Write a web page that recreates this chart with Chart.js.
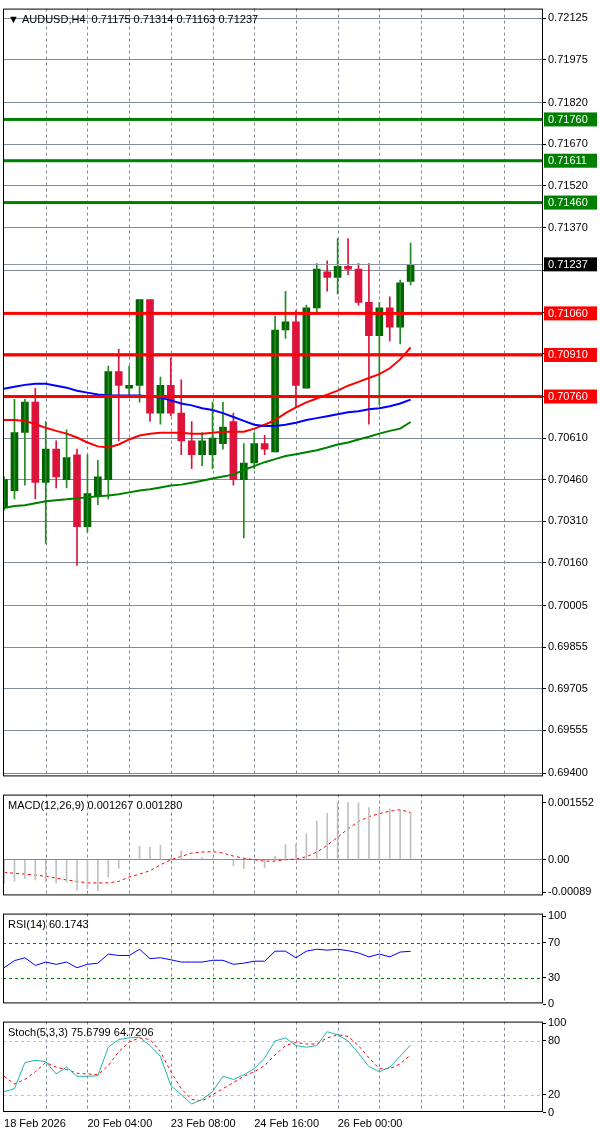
<!DOCTYPE html>
<html>
<head>
<meta charset="utf-8">
<script src="https://cdn.jsdelivr.net/npm/chart.js@4.4.1/dist/chart.umd.min.js"></script>
<style>
body { margin: 0; background: #fff; width: 600px; height: 1135px; position: relative; overflow: hidden; }
.pane { position: absolute; left: 0; width: 600px; }
</style>
</head>
<body>
<div class="pane" style="top:0"><canvas id="cMain" width="600" height="785"></canvas></div>
<div class="pane" style="top:786px"><canvas id="cMacd" width="600" height="118"></canvas></div>
<div class="pane" style="top:905px"><canvas id="cRsi" width="600" height="107"></canvas></div>
<div class="pane" style="top:1013px"><canvas id="cStoch" width="600" height="122"></canvas></div>
<script>
// AUDUSD H4 candles
const openP  = [0.7036,0.7042,0.7063,0.7074,0.7045,0.7057,0.7046,0.7055,0.7029,0.7040,0.7046,0.7085,0.7079,0.7080,0.7111,0.7070,0.7080,0.7070,0.7060,0.7055,0.7055,0.7059,0.7067,0.7046,0.7052,0.7059,0.7056,0.7100,0.7103,0.7079,0.7108,0.7121,0.7119,0.7123,0.7122,0.7110,0.7098,0.7108,0.7101,0.71175];
const highP  = [0.7047,0.7075,0.7075,0.7079,0.7067,0.7060,0.7064,0.7057,0.7055,0.7053,0.7087,0.7093,0.7087,0.7111,0.7111,0.7083,0.7090,0.7082,0.7067,0.7063,0.7074,0.7074,0.7070,0.7059,0.7063,0.7062,0.7105,0.7114,0.7107,0.7109,0.7124,0.7125,0.7133,0.7133,0.7124,0.7124,0.7110,0.7112,0.7118,0.71314];
const lowP   = [0.7035,0.7039,0.7044,0.7039,0.7023,0.7043,0.7043,0.7015,0.7027,0.7037,0.7039,0.7060,0.7076,0.7074,0.7067,0.7066,0.7069,0.7055,0.7050,0.7051,0.7050,0.7057,0.7044,0.7025,0.7050,0.7055,0.7056,0.7097,0.7072,0.7079,0.7106,0.7114,0.7113,0.7120,0.7109,0.7066,0.7073,0.7096,0.7095,0.71163];
const closeP = [0.7046,0.7063,0.7074,0.7045,0.7057,0.7047,0.7054,0.7029,0.7041,0.7047,0.7085,0.7080,0.7080,0.7111,0.7070,0.7080,0.7070,0.7060,0.7055,0.7060,0.7061,0.7065,0.7046,0.7052,0.7059,0.7057,0.7100,0.7103,0.7080,0.7108,0.7122,0.7119,0.7123,0.7122,0.7110,0.7098,0.7108,0.7101,0.7117,0.71237];

// moving averages
const maBlue  = [0.70788,0.70795,0.70802,0.70806,0.70806,0.70799,0.70792,0.70781,0.70774,0.70767,0.70764,0.70764,0.70764,0.70764,0.70760,0.70756,0.70746,0.70735,0.70728,0.70718,0.70711,0.70700,0.70686,0.70672,0.70658,0.70654,0.70654,0.70658,0.70665,0.70675,0.70682,0.70689,0.70696,0.70703,0.70707,0.70714,0.70718,0.70725,0.70735,0.70749];
const maRed   = [0.70675,0.70675,0.70672,0.70661,0.70647,0.70636,0.70626,0.70612,0.70594,0.70580,0.70576,0.70587,0.70605,0.70619,0.70626,0.70629,0.70629,0.70629,0.70626,0.70626,0.70629,0.70633,0.70633,0.70633,0.70644,0.70658,0.70675,0.70700,0.70721,0.70739,0.70753,0.70767,0.70781,0.70799,0.70813,0.70827,0.70841,0.70862,0.70894,0.70937];
const maGreen = [0.70358,0.70365,0.70368,0.70375,0.70382,0.70386,0.70389,0.70393,0.70396,0.70400,0.70403,0.70407,0.70414,0.70421,0.70425,0.70432,0.70439,0.70442,0.70449,0.70456,0.70464,0.70471,0.70478,0.70495,0.70509,0.70523,0.70534,0.70545,0.70552,0.70559,0.70566,0.70576,0.70587,0.70594,0.70605,0.70615,0.70626,0.70636,0.70644,0.70668];

// indicators
const macdHist = [-0.00063,-0.00058,-0.00051,-0.00055,-0.00059,-0.00063,-0.00061,-0.00083,-0.00079,-0.00084,-0.00047,-0.00024,0,0.00037,0.00034,0.00040,0.00004,0.00024,0.00004,0.00006,0.00004,0,-0.00016,-0.00024,-0.00004,-0.00021,0.00010,0.00041,0.00043,0.00071,0.00105,0.00126,0.00155,0.00155,0.00155,0.00142,0.00138,0.00138,0.00134,0.001267];
const macdSignal = [-0.00034,-0.00037,-0.00039,-0.00042,-0.00045,-0.00050,-0.00055,-0.00059,-0.00063,-0.00063,-0.00063,-0.00059,-0.00047,-0.00039,-0.00030,-0.00014,0,0.00009,0.00018,0.00021,0.00022,0.00018,0.00010,0.00004,0,-0.00004,-0.00004,0,0.00002,0.00008,0.00021,0.00039,0.00061,0.00084,0.00104,0.00117,0.00125,0.00132,0.00136,0.00128];
const rsiVals = [41.4,49.5,52.8,44.0,47.9,45.3,47.9,41.4,45.3,46.6,57.0,55.4,55.4,62.5,51.8,52.8,50.5,47.9,47.9,47.9,49.9,49.9,45.3,46.6,48.9,48.9,60.3,60.3,52.8,60.3,62.5,61.5,62.5,60.9,58.3,53.8,57.0,53.8,59.3,60.17];
const stochMain = [23.4,26.8,56.0,58.4,57.0,43.3,50.8,40.6,40.6,41.2,73.1,81.7,83.4,84.1,74.9,62.9,30.3,20.0,9.7,14.8,23.4,40.6,37.1,42.3,49.1,61.1,80.0,83.4,74.9,73.1,74.9,90.3,86.9,80.0,66.3,51.5,45.7,50.8,62.9,75.68];
const stochSignal = [40.6,32.0,37.1,45.7,56.0,50.8,48.1,44.0,43.3,42.3,52.6,68.0,79.0,83.4,81.7,68.0,45.7,26.8,14.8,13.1,20.0,26.8,33.7,40.6,45.7,52.6,64.6,74.9,78.3,76.6,76.6,83.4,86.9,85.1,74.9,61.1,49.1,49.1,54.3,64.72];

// axis
const priceTicks = [0.72125,0.71975,0.71820,0.71670,0.71520,0.71370,0.71215,0.71065,0.70915,0.70760,0.70610,0.70460,0.70310,0.70160,0.70005,0.69855,0.69705,0.69555,0.69400];
const hiddenTicks = [0.71215,0.71065,0.70915,0.70760];
const greenLevels = [0.71760,0.71611,0.71460];
const redLevels = [0.71060,0.70910,0.70760];
const lastPrice = 0.71237;
const gridIdx = [4,8,12,16,20,24,28,32,36,40,44,48];
const labelIdx = [0,8,16,24,32];
const labelText = ['18 Feb 2026','20 Feb 04:00','23 Feb 08:00','24 Feb 16:00','26 Feb 00:00'];

const FONT = { family: 'Liberation Sans', size: 11 };
const GRID = '#7f8b98';
Chart.defaults.font = FONT;
Chart.defaults.color = '#000';

const idx = openP.map((v, i) => i);
const xy = arr => arr.map((v, i) => ({ x: i, y: v }));

const panelPlugin = {
    id: 'panel',
    beforeDatasetsDraw(chart) {
        const o = chart.options.plugins.panel || {};
        const ctx = chart.ctx, a = chart.chartArea, ys = chart.scales.y;
        ctx.save();
        ctx.setLineDash([3, 3]);
        ctx.strokeStyle = GRID;
        ctx.lineWidth = 1;
        gridIdx.forEach(function (i) {
            let x = Math.round(chart.scales.x.getPixelForValue(i)) + 0.5;
            ctx.beginPath(); ctx.moveTo(x, a.top); ctx.lineTo(x, a.bottom); ctx.stroke();
        });
        (o.hlines || []).forEach(function (h) {
            ctx.strokeStyle = h.color;
            let y = Math.round(ys.getPixelForValue(h.v)) + 0.5;
            ctx.beginPath(); ctx.moveTo(a.left, y); ctx.lineTo(a.right, y); ctx.stroke();
        });
        ctx.restore();
    },
    afterDatasetsDraw(chart) {
        const o = chart.options.plugins.panel || {};
        const ctx = chart.ctx, a = chart.chartArea, ys = chart.scales.y;
        ctx.save();
        (o.levels || []).forEach(function (l) {
            let y = ys.getPixelForValue(l.v);
            ctx.fillStyle = l.color;
            ctx.fillRect(a.left, y - 1.5, a.right - a.left, 3);
        });
        if (o.last) {
            let y = Math.round(ys.getPixelForValue(o.last)) + 0.5;
            ctx.strokeStyle = '#8a97a4';
            ctx.beginPath(); ctx.moveTo(a.left, y); ctx.lineTo(a.right, y); ctx.stroke();
        }
        ctx.strokeStyle = '#000';
        ctx.lineWidth = 1;
        ctx.strokeRect(a.left + 0.5, a.top + 0.5, a.right - a.left - 1, a.bottom - a.top - 1);
        ctx.font = '11px "Liberation Sans"';
        ctx.fillStyle = '#000';
        ctx.textBaseline = 'middle';
        if (o.title) ctx.fillText(o.title, a.left + 5, a.top + 11);
        (o.levels || []).concat(o.last ? [{ v: o.last, color: '#000' }] : []).forEach(function (l) {
            let y = ys.getPixelForValue(l.v);
            ctx.fillStyle = l.color;
            ctx.fillRect(a.right + 1, y - 7, 53, 14);
            ctx.fillStyle = '#fff';
            ctx.fillText(l.v.toFixed(5), a.right + 5, y + 0.5);
        });
        ctx.restore();
    }
};

function xScale(showLabels) {
    return {
        type: 'linear', min: -0.1, max: 51.7, offset: false,
        grid: { display: false, drawTicks: showLabels, tickLength: 4, color: '#000', offset: false },
        border: { display: false },
        afterBuildTicks: function (s) { s.ticks = labelIdx.map(v => ({ value: v })); },
        ticks: {
            display: showLabels, align: 'start', maxRotation: 0, autoSkip: false, padding: 1,
            callback: function (v) { return labelText[labelIdx.indexOf(v)]; }
        },
        afterFit: function (s) { s.height = showLabels ? 23 : 0; }
    };
}

function yScale(min, max, ticks, fmt, grid) {
    return {
        position: 'right', min: min, max: max,
        afterBuildTicks: function (s) { s.ticks = ticks.map(v => ({ value: v })); },
        afterFit: function (s) { s.width = 57; },
        border: { display: false },
        grid: {
            color: function (c) { return grid(c.tick.value) ? GRID : 'rgba(0,0,0,0)'; },
            tickColor: '#000', tickLength: 3, drawTicks: true
        },
        ticks: { padding: 2, autoSkip: false, callback: fmt }
    };
}

function baseOptions(scales, panel, padBottom) {
    return {
        responsive: false, animation: false, events: [],
        layout: { padding: { left: 3, top: 1, right: 0, bottom: padBottom } },
        plugins: { legend: { display: false }, tooltip: { enabled: false }, panel: panel },
        scales: scales
    };
}

function lineSet(arr, color, dash, width) {
    return { type: 'line', data: xy(arr), borderColor: color, borderWidth: width || 1, borderDash: dash || [],
        pointRadius: 0, tension: 0, fill: false };
}

// main price panel
const bull = idx.map(i => closeP[i] >= openP[i]);
const candleCol = idx.map(i => bull[i] ? '#006400' : '#dc143c');
const wickCol = idx.map(i => bull[i] ? '#228b22' : '#dc143c');
new Chart('cMain', {
    type: 'bar',
    data: {
        datasets: [
            lineSet(maGreen, '#008000', [], 2),
            lineSet(maBlue, '#0000ff', [], 2),
            lineSet(maRed, '#ff0000', [], 2),
            { data: idx.map(i => ({ x: i, y: [lowP[i], highP[i]] })), backgroundColor: wickCol, barThickness: 1, grouped: false },
            { data: idx.map(i => ({ x: i, y: [openP[i], closeP[i]] })), backgroundColor: candleCol, barThickness: 7, grouped: false, minBarLength: 2 }
        ]
    },
    plugins: [panelPlugin],
    options: baseOptions({
        x: xScale(false),
        y: yScale(0.69389, 0.72160, priceTicks,
            function (v) { return hiddenTicks.includes(v) ? '' : v.toFixed(5); },
            function () { return true; })
    }, {
        title: '\u25BC AUDUSD,H4  0.71175 0.71314 0.71163 0.71237',
        levels: greenLevels.map(v => ({ v: v, color: '#008000' })).concat(redLevels.map(v => ({ v: v, color: '#ff0000' }))),
        last: lastPrice
    }, 1)
});

// MACD panel
new Chart('cMacd', {
    type: 'bar',
    data: {
        datasets: [
            { data: xy(macdHist), backgroundColor: '#c0c0c0', barThickness: 1, grouped: false },
            lineSet(macdSignal, '#ff0000', [3, 3], 1)
        ]
    },
    plugins: [panelPlugin],
    options: baseOptions({
        x: xScale(false),
        y: yScale(-0.00097, 0.00177, [0.001552, 0, -0.00089],
            function (v) { return v === 0 ? '0.00' : (v > 0 ? v.toFixed(6) : v.toFixed(5)); },
            function (v) { return v === 0; })
    }, { title: 'MACD(12,26,9) 0.001267 0.001280' }, 1)
});

// RSI panel
new Chart('cRsi', {
    type: 'line',
    data: { datasets: [lineSet(rsiVals, '#0000ff', [], 1)] },
    plugins: [panelPlugin],
    options: baseOptions({
        x: xScale(false),
        y: yScale(0.7, 103.2, [100, 70, 30, 0], function (v) { return String(v); }, function () { return false; })
    }, { title: 'RSI(14) 60.1743', hlines: [{ v: 70, color: '#008000' }, { v: 30, color: '#008000' }] }, 1)
});

// Stochastic panel
new Chart('cStoch', {
    type: 'line',
    data: {
        datasets: [
            lineSet(stochMain, '#20b2aa', [], 1),
            lineSet(stochSignal, '#ff0000', [3, 3], 1)
        ]
    },
    plugins: [panelPlugin],
    options: baseOptions({
        x: xScale(true),
        y: yScale(0.8, 101.6, [100, 80, 20, 0], function (v) { return String(v); }, function () { return false; })
    }, { title: 'Stoch(5,3,3) 75.6799 64.7206', hlines: [{ v: 80, color: '#c0c0c0' }, { v: 20, color: '#c0c0c0' }] }, 0)
});
</script>
</body>
</html>
